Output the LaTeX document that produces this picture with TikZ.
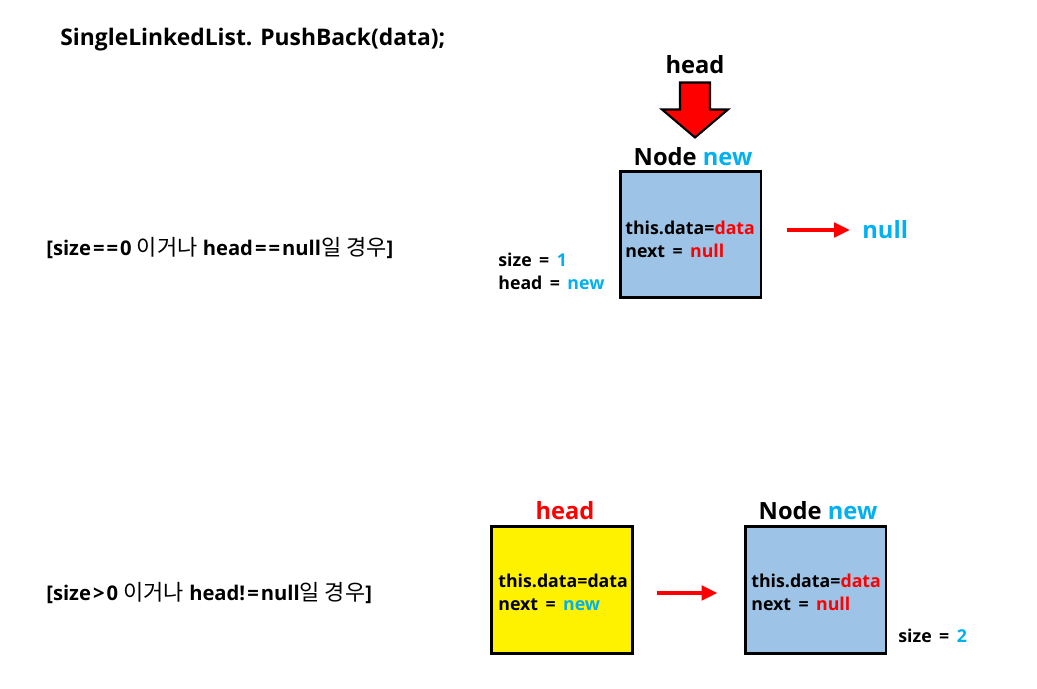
\documentclass[tikz,border=0pt]{standalone}
\usepackage{fontspec}
\setmainfont{Open Sans}
\newfontfamily\kr{Noto Sans CJK KR}
\usetikzlibrary{positioning,arrows.meta}
\definecolor{skyblue}{HTML}{00B0F0}
\definecolor{boxblue}{HTML}{9DC3E6}
\newcommand{\blu}[1]{\textcolor{skyblue}{#1}}
\newcommand{\rd}[1]{\textcolor{red}{#1}}
\newcommand{\eq}{\hspace{0.42em}=\hspace{0.42em}}
\newcommand{\hangul}[1]{{\kr\mdseries\fontsize{12.5}{14}\selectfont #1}}

\tikzset{
  listnode/.style={draw, line width=1.7pt, minimum width=2.82cm, minimum height=2.54cm, inner sep=0pt},
  field/.style={font=\bfseries\fontsize{10.1}{13}\selectfont, align=left, inner sep=0pt, anchor=west},
  casetext/.style={font=\bfseries\fontsize{11.5}{14}\selectfont, inner sep=0pt, anchor=west},
  tag/.style={font=\bfseries\fontsize{13.5}{16}\selectfont, inner sep=0pt},
  ptr/.style={red, line width=2.2pt, -{Triangle[length=9pt,width=8pt]}},
}

\begin{document}
\begin{tikzpicture}[x=0.02cm,y=-0.02cm]
  \useasboundingbox (0,0) rectangle (1037,689);

  \node[tag, anchor=west, font=\bfseries\fontsize{13}{16}\selectfont] (title) at (60,40) {SingleLinkedList. PushBack(data);};

  % size==0
  \node[casetext] (case1) at (46,248) {[size\hspace{0.1em}=\hspace{0.1em}=\hspace{0.1em}0 \hangul{이거나} head\hspace{0.1em}=\hspace{0.1em}=\hspace{0.1em}null\hangul{일 경우}]};
  \node[tag] (head1) at (695,65) {head};
  \node[tag] (new1) at (693,157) {Node \blu{new}};
  \node[listnode, fill=boxblue] (n1) at (690.5,234.5) {};
  \node[field] (f1) at (625,239) {this.data=\rd{data}\\next\eq\rd{null}};
  \node[field] (s1) at (498,271) {size\eq\blu{1}\\head\eq\blu{new}};
  \node[tag, skyblue, anchor=west] (null1) at (862,230) {null};
  \draw[fill=red, line width=1.2pt] (head1.south) ++(-15,8) coordinate (hd)
    -- ++(30,0) -- ++(0,27) -- ++(18,0) -- ++(-33,28) -- ++(-33,-28) -- ++(18,0) -- cycle;
  \draw[ptr] ([xshift=0.5cm]n1.east |- null1.west) -- ([xshift=-0.24cm]null1.west);

  % size>0
  \node[casetext] (case2) at (46,593) {[size\hspace{0.1em}>\hspace{0.1em}0 \hangul{이거나} head!\hspace{0.1em}=\hspace{0.1em}null\hangul{일 경우}]};
  \node[listnode, fill=yellow] (h2) at (562,590) {};
  \node[tag, red] (head2) at (565,511) {head};
  \node[field] (f2) at (498,592) {this.data=data\\next\eq\blu{new}};
  \node[listnode, fill=boxblue] (n2) at (815.5,590) {};
  \node[tag] (new2) at (818,511) {Node \blu{new}};
  \node[field] (f3) at (751,592) {this.data=\rd{data}\\next\eq\rd{null}};
  \node[field] (s2) at (898,636) {size\eq\blu{2}};
  \draw[ptr] ([xshift=0.46cm,yshift=-0.06cm]h2.east) -- ([xshift=-0.52cm,yshift=-0.06cm]n2.west);
\end{tikzpicture}
\end{document}
